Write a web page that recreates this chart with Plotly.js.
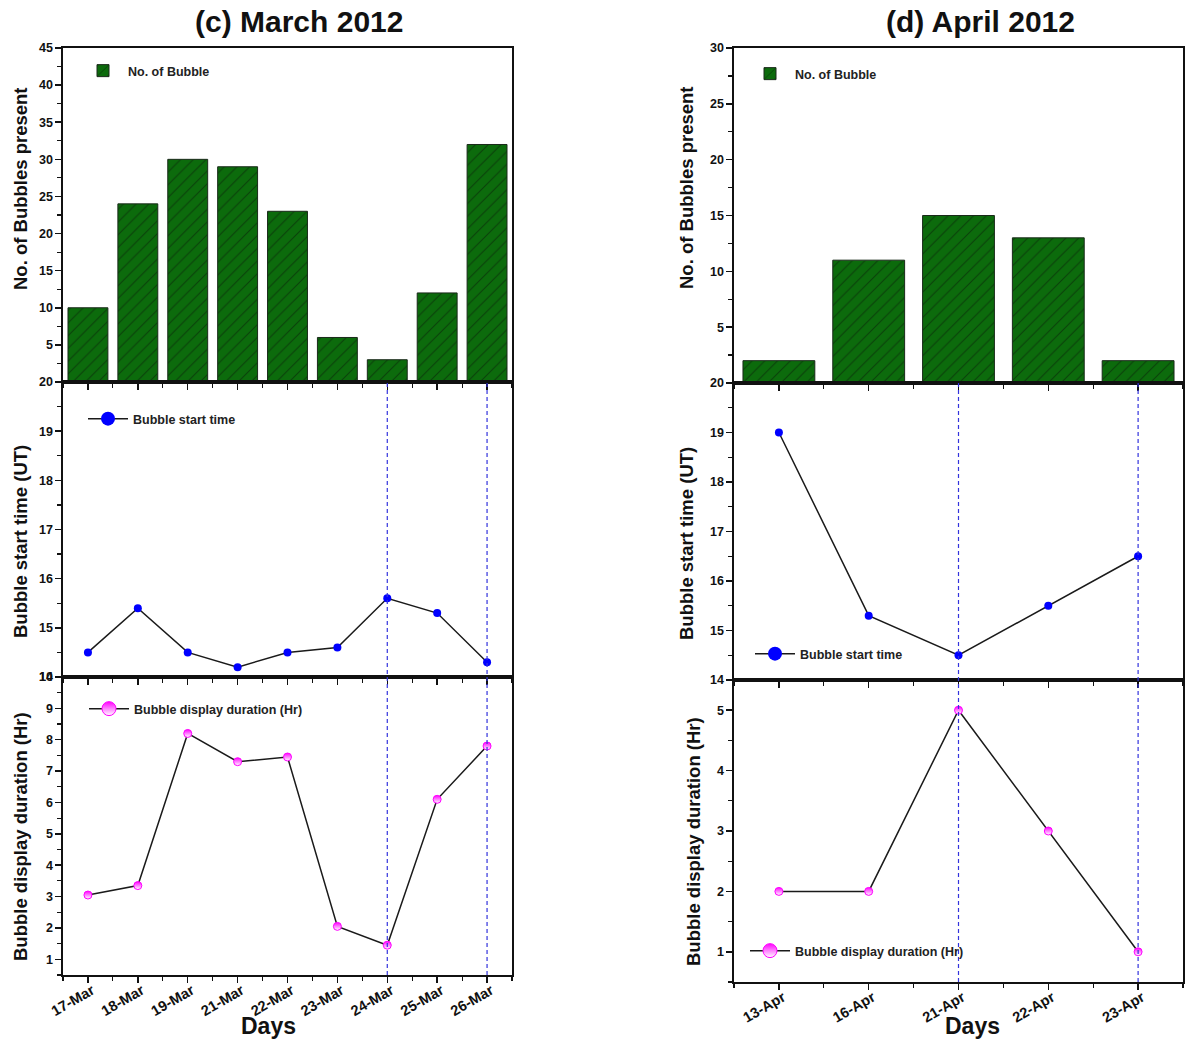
<!DOCTYPE html>
<html>
<head>
<meta charset="utf-8">
<script src="https://cdn.plot.ly/plotly-3.0.1.min.js"></script>
<style>html,body{margin:0;padding:0;background:#fff;}#chart{width:1190px;height:1039px;}</style>
</head>
<body>
<div id="chart"></div>
<script>
// ---- data ----
const marDays = ['17-Mar','18-Mar','19-Mar','21-Mar','22-Mar','23-Mar','24-Mar','25-Mar','26-Mar'];
const marBubbles = [10,24,30,29,23,6,3,12,32];
const marStart = [14.5,15.4,14.5,14.2,14.5,14.6,15.6,15.3,14.3];
const marDuration = [3.05,3.35,8.2,7.3,7.45,2.05,1.45,6.1,7.8];
const marMarked = ['24-Mar','26-Mar'];

const aprDays = ['13-Apr','16-Apr','21-Apr','22-Apr','23-Apr'];
const aprBubbles = [2,11,15,13,2];
const aprStart = [19,15.3,14.5,15.5,16.5];
const aprDuration = [2,2,5,3,1];
const aprMarked = ['21-Apr','23-Apr'];

const titles = ['(c) March 2012','(d) April 2012'];
const yTitles = ['No. of Bubbles present','Bubble start time (UT)','Bubble display duration (Hr)'];
const legendNames = ['No. of Bubble','Bubble start time','Bubble display duration (Hr)'];
const xTitle = 'Days';

// ---- style ----
const FONT = 'Liberation Sans, Arial, sans-serif';
const W = 1190, H = 1039;
const px = v => v / W;
const py = v => 1 - v / H;

const idx = arr => arr.map((d, i) => i);

const barMarker = {
  color: '#0c6b0c',
  line: {color: '#1a2a1a', width: 1},
  pattern: {shape: '/', fgcolor: '#0a400a', bgcolor: '#0c6b0c', size: 9, solidity: 0.12, fillmode: 'replace'}
};
const blueMarker = {color: '#0000ff', size: 8};
const pinkMarker = {color: '#ff00ff', size: 8, line: {color: '#ff00ff', width: 1}, gradient: {type: 'vertical', color: '#ffffff'}};
const lineStyle = {color: '#1a1a1a', width: 1.5};
const big = m => Object.assign({}, m, {size: 14});

function lineTrace(days, vals, xa, ya, marker) {
  return {type: 'scatter', mode: 'lines+markers', x: idx(days), y: vals, xaxis: xa, yaxis: ya,
    line: lineStyle, marker: marker, showlegend: false};
}
function legendItem(name, xa, ya, marker, legend) {
  return {type: 'scatter', mode: 'lines+markers', x: [null], y: [null], xaxis: xa, yaxis: ya,
    line: lineStyle, marker: big(marker), name: name, legend: legend, showlegend: true};
}

const traces = [
  {type: 'bar', x: idx(marDays), y: marBubbles, xaxis: 'x', yaxis: 'y', width: 0.8, marker: barMarker, name: legendNames[0], legend: 'legend', showlegend: true},
  lineTrace(marDays, marStart, 'x2', 'y2', blueMarker),
  legendItem(legendNames[1], 'x2', 'y2', blueMarker, 'legend2'),
  lineTrace(marDays, marDuration, 'x3', 'y3', pinkMarker),
  legendItem(legendNames[2], 'x3', 'y3', pinkMarker, 'legend3'),
  {type: 'bar', x: idx(aprDays), y: aprBubbles, xaxis: 'x4', yaxis: 'y4', width: 0.8, marker: barMarker, name: legendNames[0], legend: 'legend4', showlegend: true},
  lineTrace(aprDays, aprStart, 'x5', 'y5', blueMarker),
  legendItem(legendNames[1], 'x5', 'y5', blueMarker, 'legend5'),
  lineTrace(aprDays, aprDuration, 'x6', 'y6', pinkMarker),
  legendItem(legendNames[2], 'x6', 'y6', pinkMarker, 'legend6')
];

const tickFont = {family: FONT, size: 12.5, color: '#111', weight: 'bold'};

function xAxis(days, domain, anchor, labels) {
  return {
    domain: domain, anchor: anchor, type: 'linear', range: [-0.5, days.length - 0.5],
    tickmode: 'array', tickvals: idx(days), ticktext: labels ? days : days.map(() => ''),
    showticklabels: !!labels, tickangle: -30, tickfont: {family: FONT, size: 14.5, color: '#111', weight: 'bold'},
    ticklabelstandoff: -6, ticklabelshift: 4,
    ticks: 'outside', ticklen: 6, tickwidth: 1.5, tickcolor: '#111',
    minor: {tickmode: 'linear', tick0: 0.5, dtick: 1, ticks: 'outside', ticklen: 4, tickwidth: 1.2, tickcolor: '#111'},
    showline: true, linecolor: '#111', linewidth: 1.6, mirror: true,
    showgrid: false, zeroline: false, automargin: false, fixedrange: true
  };
}
function yAxis(domain, anchor, range, tickvals, minorDtick) {
  return {
    domain: domain, anchor: anchor, range: range, tickmode: 'array', tickvals: tickvals,
    tickfont: tickFont, ticks: 'outside', ticklen: 6, tickwidth: 1.5, tickcolor: '#111',
    minor: {tickmode: 'linear', tick0: 0, dtick: minorDtick, ticks: 'outside', ticklen: 4, tickwidth: 1.2, tickcolor: '#111'},
    showline: true, linecolor: '#111', linewidth: 1.6, mirror: true,
    showgrid: false, zeroline: false, automargin: false, fixedrange: true
  };
}

const LX = [px(63), px(512)];
const RX = [px(734), px(1183)];
const LT = [py(382), py(48)], LM = [py(677), py(382)], LB = [py(975), py(677)];
const RT = [py(383), py(48)], RM = [py(680), py(383)], RB = [py(982), py(680)];

function legendAt(x, y) {
  return {x: px(x), y: py(y), xanchor: 'left', yanchor: 'middle', bgcolor: 'rgba(0,0,0,0)', borderwidth: 0,
    font: {family: FONT, size: 12.5, color: '#222', weight: 'bold'}, itemwidth: 40, tracegroupgap: 0, visible: true};
}

function marks(days, marked, xref, y0, y1) {
  return marked.map(d => ({
    type: 'line', xref: xref, yref: 'paper', x0: days.indexOf(d), x1: days.indexOf(d), y0: y0, y1: y1,
    line: {color: '#3333dd', width: 1.2, dash: '4px,3px'}
  }));
}

const annFont = s => ({family: FONT, size: s, color: '#111', weight: 'bold'});
function yTitle(text, x, y) {
  return {text: text, xref: 'paper', yref: 'paper', x: px(x), y: py(y), showarrow: false, textangle: -90,
    xanchor: 'center', yanchor: 'middle', font: annFont(18.5)};
}

const layout = {
  width: W, height: H, margin: {l: 0, r: 0, t: 0, b: 0, pad: 0},
  paper_bgcolor: '#fff', plot_bgcolor: '#fff', bargap: 0.2, showlegend: true,
  font: {family: FONT, color: '#111'},
  xaxis: xAxis(marDays, LX, 'y', false),
  yaxis: yAxis(LT, 'x', [0, 45], [5,10,15,20,25,30,35,40,45], 2.5),
  xaxis2: xAxis(marDays, LX, 'y2', false),
  yaxis2: yAxis(LM, 'x2', [14, 20], [14,15,16,17,18,19,20], 0.5),
  xaxis3: xAxis(marDays, LX, 'y3', true),
  yaxis3: yAxis(LB, 'x3', [0.5, 10], [1,2,3,4,5,6,7,8,9,10], 0.5),
  xaxis4: xAxis(aprDays, RX, 'y4', false),
  yaxis4: yAxis(RT, 'x4', [0, 30], [5,10,15,20,25,30], 2.5),
  xaxis5: xAxis(aprDays, RX, 'y5', false),
  yaxis5: yAxis(RM, 'x5', [14, 20], [14,15,16,17,18,19,20], 0.5),
  xaxis6: xAxis(aprDays, RX, 'y6', true),
  yaxis6: yAxis(RB, 'x6', [0.5, 5.5], [1,2,3,4,5], 0.5),
  legend: legendAt(78, 71),
  legend2: legendAt(83, 419),
  legend3: legendAt(84, 709),
  legend4: legendAt(745, 74),
  legend5: legendAt(750, 654),
  legend6: legendAt(745, 951),
  shapes: [].concat(
    marks(marDays, marMarked, 'x3', LB[0], LM[1]),
    marks(aprDays, aprMarked, 'x6', RB[0], RM[1])
  ),
  annotations: [
    {text: titles[0], xref: 'paper', yref: 'paper', x: px(299), y: py(21), showarrow: false, xanchor: 'center', yanchor: 'middle', font: annFont(30)},
    {text: titles[1], xref: 'paper', yref: 'paper', x: px(980), y: py(21), showarrow: false, xanchor: 'center', yanchor: 'middle', font: annFont(30)},
    yTitle(yTitles[0], 20, 189),
    yTitle(yTitles[1], 20, 542),
    yTitle(yTitles[2], 20, 837),
    yTitle(yTitles[0], 686, 187),
    yTitle(yTitles[1], 686, 543),
    yTitle(yTitles[2], 693, 842),
    {text: xTitle, xref: 'paper', yref: 'paper', x: px(268), y: py(1026), showarrow: false, xanchor: 'center', yanchor: 'middle', font: annFont(23)},
    {text: xTitle, xref: 'paper', yref: 'paper', x: px(972), y: py(1026), showarrow: false, xanchor: 'center', yanchor: 'middle', font: annFont(23)}
  ]
};

Plotly.newPlot('chart', traces, layout, {staticPlot: true, displayModeBar: false});
</script>
</body>
</html>
